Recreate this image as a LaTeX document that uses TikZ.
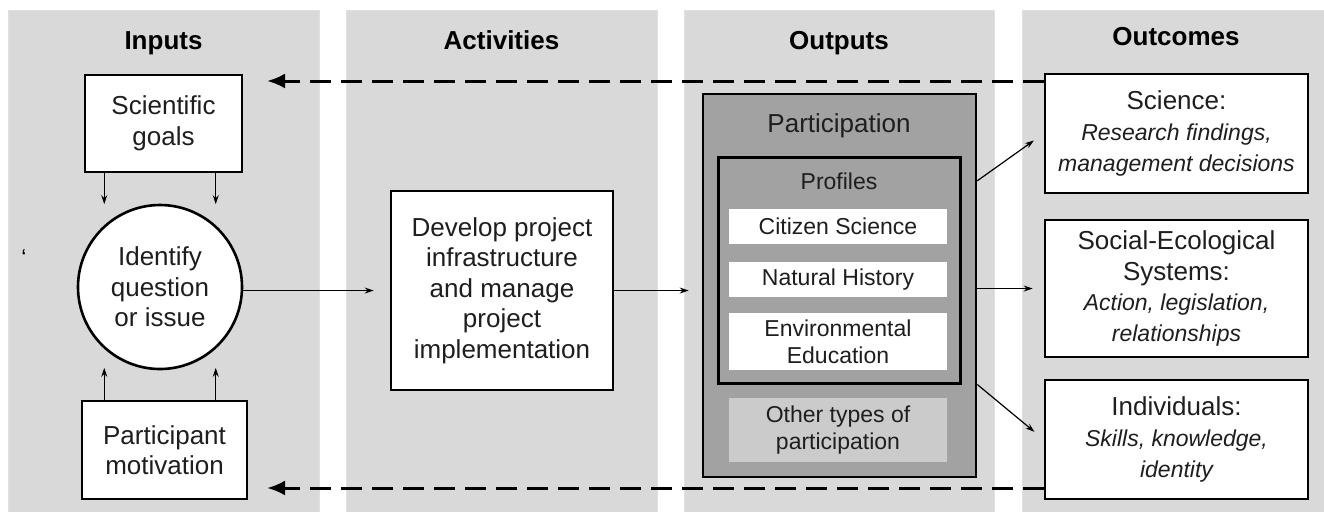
\documentclass[tikz,border=0pt]{standalone}
\usepackage{fontspec}
\setmainfont{Liberation Sans}
\usetikzlibrary{arrows.meta, calc}
\definecolor{panelgray}{HTML}{D9D9D9}
\definecolor{partgray}{HTML}{A2A2A2}
\definecolor{othergray}{HTML}{CBCBCB}
\definecolor{textgray}{HTML}{1E1E1E}
\newcommand{\txtL}{\fontsize{13pt}{15.3pt}\selectfont}
\newcommand{\txtS}{\fontsize{11.5pt}{13.5pt}\selectfont}
\tikzset{
	panel/.style={fill=panelgray, draw=black!12},
	heading/.style={font=\txtL\bfseries, anchor=base},
	box/.style={draw, line width=1.3pt, fill=white, align=center, inner sep=0pt, font=\txtL, text=textgray},
	entry/.style={fill=white, align=center, inner sep=0pt, minimum width=109pt, font=\txtS, text=textgray},
	flow/.style={-{Stealth[length=4.5pt, width=3pt]}, line width=0.6pt},
	fb/.style={-{Latex[length=9pt, width=7.5pt]}, line width=1.5pt, dash pattern=on 10.5pt off 5pt}
}

\begin{document}
\begin{tikzpicture}[x=0.5pt, y=-0.5pt]
\useasboundingbox (0,0) rectangle (1324,511);
\fill[white] (0,0) rectangle (1324,511);
\foreach \xa/\xb/\t/\ty [count=\i] in {8/319/Inputs/49, 346/657/Activities/49, 684/994/Outputs/49, 1022/1330/Outcomes/45}
	\draw[panel] (\xa,10) rectangle (\xb,516) node[heading] (head\i) at ({(\xa+\xb)/2},\ty) {\t};
\node[font=\txtS] (tick) at (24,258) {`};

\node[box, minimum width=78.5pt, minimum height=48.5pt] (goals) at (163.5,123.5) {Scientific\\goals};
\node[box, circle, minimum size=82pt] (idq) at (160,287) {Identify\\question\\or issue};
\node[box, minimum width=82.5pt, minimum height=49pt] (motiv) at (164.5,450) {Participant\\motivation};
\node[box, minimum width=111pt, minimum height=99.5pt] (dev) at (502,290.5)
	{Develop project\\infrastructure\\and manage\\project\\implementation};

\node[draw, line width=1.3pt, fill=partgray, minimum width=136.5pt, minimum height=191.5pt] (part) at (839.5,285.5) {};
\node[font=\txtL, text=textgray, anchor=base] (parttitle) at (839,132) {Participation};
\node[draw, line width=1.5pt, fill=partgray, minimum width=121pt, minimum height=113pt] (prof) at (839,270) {};
\node[font=\txtS, text=textgray, anchor=base] (proftitle) at (839,189) {Profiles};
\foreach \n/\y/\h/\t in {cs/226.5/17.5/Citizen Science, nh/279.5/17.5/Natural History, ee/341.5/28.5/Environmental\\Education}
	\node[entry, minimum height=\h pt] (\n) at (838,\y) {\t};
\node[entry, fill=othergray, minimum height=32pt] (other) at (838,430) {Other types of\\participation};

\node[box, minimum width=131.5pt, minimum height=59.5pt] (sci) at (1176.5,133.5)
	{Science:\\{\txtS\itshape Research findings,}\\{\txtS\itshape management decisions}};
\node[box, minimum width=131.5pt, minimum height=68.5pt] (ses) at (1176.5,288.5)
	{Social-Ecological\\Systems:\\{\txtS\itshape Action, legislation,}\\{\txtS\itshape relationships}};
\node[box, minimum width=131.5pt, minimum height=59.5pt] (ind) at (1176.5,439.5)
	{Individuals:\\{\txtS\itshape Skills, knowledge,}\\{\txtS\itshape identity}};

\foreach \a in {132,48}
	\draw[flow, shorten >=10.5pt] (goals.south -| idq.\a) -- (idq.\a);
\foreach \a in {228,312}
	\draw[flow, shorten >=9.5pt] (motiv.north -| idq.\a) -- (idq.\a);
\draw[flow, shorten >=8pt] (idq.east |- dev.west) -- (dev.west);
\draw[flow, shorten >=6.5pt] (dev.east) -- (dev.east -| part.west);
\draw[flow, shorten >=6pt] (part.east |- proftitle.center) -- (sci.west);
\draw[flow, shorten >=5.5pt] (part.east |- ses.west) -- (ses.west);
\draw[flow, shorten >=6pt] (part.east |- prof.south) -- (ind.west);

\coordinate (fbtop) at (267,81);
\coordinate (fbbot) at (267,488);
\draw[fb] (sci.west |- fbtop) -- (fbtop);
\draw[fb] (ind.west |- fbbot) -- (fbbot);
\end{tikzpicture}
\end{document}
